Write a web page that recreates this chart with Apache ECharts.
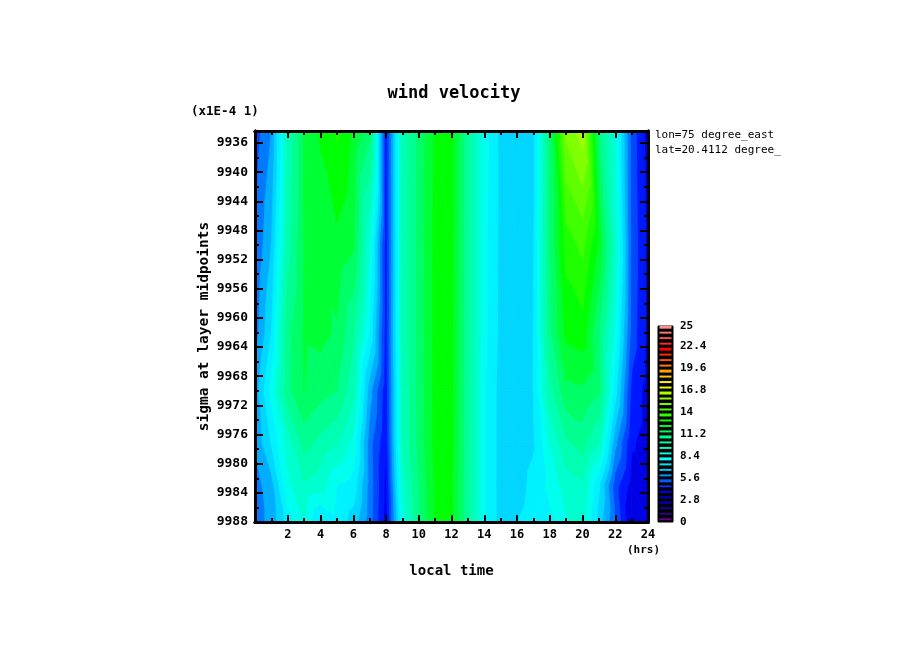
<!DOCTYPE html>
<html>
<head>
<meta charset="utf-8">
<script src="https://cdn.jsdelivr.net/npm/echarts@6/dist/echarts.min.js"></script>
<style>
  html, body { margin: 0; padding: 0; background: #fff; }
  #chart { width: 904px; height: 654px; }
</style>
</head>
<body>
<div id="chart"></div>
<script>
// local time of each column (hrs)
const hours = [0, 1, 2, 3, 4, 5, 6, 7, 8, 9, 10, 11, 12, 13, 14, 15, 16, 17, 18, 19, 20, 21, 22, 23, 24];
// sigma (x1E-4) of each row
const sigmas = [9934.35, 9950, 9962, 9970, 9977, 9983, 9988];
// wind velocity along each row, one value per hour
const row9934 = [5.2, 6.3, 9.9, 11.9, 12.7, 13.4, 12.5, 11.4, 4.4, 9.9, 11.4, 12.7, 12.8, 10.6, 8.7, 7.5, 7.3, 7.4, 11.2, 15.6, 16.5, 11.2, 9, 5.3, 3.9];
const row9950 = [5.6, 7, 10.2, 11.9, 12.1, 12.4, 12, 9.1, 4.4, 9.9, 11.4, 12.8, 12.8, 10.6, 8.6, 7.5, 7.3, 7.6, 11.2, 13.6, 14.2, 12.5, 9.5, 5.4, 4];
const row9962 = [5.9, 7.7, 11, 12, 12.1, 11.8, 10.6, 8.3, 4.5, 9.9, 11.4, 12.8, 12.8, 10.6, 8.6, 7.5, 7.3, 7.7, 11, 12.8, 13, 11.2, 8.8, 5.3, 4];
const row9970 = [6.6, 8.6, 11, 11.9, 11.5, 11.2, 10, 6.6, 4.4, 9.8, 11.4, 12.8, 12.8, 10.6, 8.5, 7.4, 7.3, 7.7, 10.2, 11.7, 11.8, 11.3, 8, 4.7, 3.9];
const row9977 = [6.4, 7.8, 9.4, 10.8, 10.3, 9.9, 8.9, 5.9, 4.3, 9.8, 11.4, 12.8, 12.8, 10.6, 8.5, 7.4, 7.3, 7.6, 9.1, 10.4, 10.8, 9.9, 6.5, 4.3, 3.9];
const row9983 = [6, 6.7, 8.9, 9.7, 9.4, 8.4, 8.1, 6, 4, 9.4, 11.2, 12.7, 12.7, 10.6, 8.5, 7.4, 7.4, 7.9, 8.6, 9.4, 9.7, 7.8, 5.2, 3.9, 3.8];
const row9988 = [6, 6.5, 8, 9.1, 7.5, 8.2, 7.4, 5.9, 3.9, 8.8, 11, 12.7, 12.8, 10.6, 8.5, 7.4, 7.7, 8, 8.2, 9, 9.4, 7.4, 5.6, 3.5, 3.8];
const rows = [row9934, row9950, row9962, row9970, row9977, row9983, row9988];

const hourLabels = [2, 4, 6, 8, 10, 12, 14, 16, 18, 20, 22, 24];
const hourMinor = [1, 3, 5, 7, 9, 11, 13, 15, 17, 19, 21, 23];
const sigmaLabels = [9936, 9940, 9944, 9948, 9952, 9956, 9960, 9964, 9968, 9972, 9976, 9980, 9984, 9988];
const sigmaMinor = [9938, 9942, 9946, 9950, 9954, 9958, 9962, 9966, 9970, 9974, 9978, 9982, 9986];

// colour bar
const barLabels = [0, 2.8, 5.6, 8.4, 11.2, 14, 16.8, 19.6, 22.4, 25];
const levelStep = 0.7;
const levelCount = 36;
const rampValues = [0, 1.4, 2.8, 4.2, 5.6, 7, 8.4, 11.2, 13, 14, 16.8, 18, 19.6, 22.4, 25];
const rampColors = ['#a000a0', '#300090', '#0000a0', '#0000ff', '#0060ff', '#00c8ff', '#00ffff', '#00ff80', '#00ff00', '#30ff00', '#b0ff00', '#ffff00', '#ffa000', '#ff0000', '#ff9090'];

const hexRgb = (hex) => [1, 3, 5].map(i => parseInt(hex.slice(i, i + 2), 16));

const rampColor = (v) => {
    let i = 0;
    while (i < rampValues.length - 2 && v > rampValues[i + 1]) i++;
    let t = Math.min(1, (v - rampValues[i]) / (rampValues[i + 1] - rampValues[i]));
    let a = hexRgb(rampColors[i]), b = hexRgb(rampColors[i + 1]);
    return 'rgb(' + a.map((c, j) => Math.round(c + (b[j] - c) * t)).join(',') + ')';
};

// the part of a polygon where the value is >= lo
const clipAbove = (poly, lo) => {
    let out = [];
    for (let i = 0; i < poly.length; i++) {
        let p = poly[i], q = poly[(i + 1) % poly.length];
        if (p[2] >= lo) out.push(p);
        if ((p[2] >= lo) !== (q[2] >= lo)) {
            let t = (lo - p[2]) / (q[2] - p[2]);
            out.push([p[0] + (q[0] - p[0]) * t, p[1] + (q[1] - p[1]) * t, lo]);
        }
    }
    return out;
};

// the data grid split up in triangles, each one cut at the contour levels
let bands = [];
const addTriangle = (tri) => {
    let vals = tri.map(p => p[2]);
    let kMin = Math.floor(Math.min(...vals) / levelStep);
    let kMax = Math.floor(Math.max(...vals) / levelStep);
    for (let k = kMin; k <= kMax; k++) {
        let poly = k === kMin ? tri : clipAbove(tri, k * levelStep);
        if (poly.length >= 3) bands.push({ level: k, poly: poly });
    }
};
for (let r = 0; r < sigmas.length - 1; r++) {
    for (let c = 0; c < hours.length - 1; c++) {
        let a = [hours[c], sigmas[r], rows[r][c]];
        let b = [hours[c + 1], sigmas[r], rows[r][c + 1]];
        let d = [hours[c], sigmas[r + 1], rows[r + 1][c]];
        let e = [hours[c + 1], sigmas[r + 1], rows[r + 1][c + 1]];
        addTriangle([a, b, e]);
        addTriangle([a, e, d]);
    }
}
// low levels first so the higher ones paint over the seams
bands.sort((p, q) => p.level - q.level);

const renderShade = (params, api) => {
    let band = bands[params.dataIndex];
    let color = rampColor((band.level + 0.5) * levelStep);
    return {
        type: 'polygon',
        shape: { points: band.poly.map(p => api.coord([p[0], p[1]])) },
        style: { fill: color, stroke: color, lineWidth: 0.8 },
        silent: true
    };
};

const renderBarLine = (params, api) => {
    let k = params.dataIndex;
    let mid = (k + 0.5) * levelStep;
    let p0 = api.coord([0.1, mid]);
    let p1 = api.coord([0.9, mid]);
    let h = k % 4 === 3 ? 3 : 2;
    return {
        type: 'rect',
        shape: { x: p0[0], y: p0[1] - h / 2, width: p1[0] - p0[0], height: h },
        style: { fill: rampColor((k + 1) * levelStep) },
        silent: true
    };
};

const mono = 'DejaVu Sans Mono';
const axisPen = { show: true, onZero: false, lineStyle: { color: '#000', width: 3 } };
const plainNumber = (v) => String(v);

const hourAxis = (position, major, showLabel) => ({
    type: 'value', gridIndex: 0, position: position, min: 0, max: 24, z: 6,
    splitLine: { show: false },
    axisLine: axisPen,
    axisTick: {
        show: true, inside: true, length: major ? 7 : 4,
        customValues: major ? hourLabels : hourMinor,
        lineStyle: { color: '#000', width: 2 }
    },
    axisLabel: showLabel
        ? { show: true, margin: 7, customValues: hourLabels, formatter: plainNumber, color: '#000', fontFamily: mono, fontWeight: 'bold', fontSize: 12 }
        : { show: false }
});

const sigmaAxis = (position, major, showLabel) => ({
    type: 'value', gridIndex: 0, position: position, inverse: true, min: sigmas[0], max: 9988, z: 6,
    splitLine: { show: false },
    axisLine: axisPen,
    axisTick: {
        show: true, inside: true, length: major ? 8 : 4,
        customValues: major ? sigmaLabels : sigmaMinor,
        lineStyle: { color: '#000', width: 2 }
    },
    axisLabel: showLabel
        ? { show: true, margin: 7, customValues: sigmaLabels, formatter: plainNumber, color: '#000', fontFamily: mono, fontWeight: 'bold', fontSize: 13 }
        : { show: false }
});

const noteText = (left, top, text, size, bold) => ({
    type: 'text', left: left, top: top, silent: true,
    style: { text: text, fill: '#000', font: (bold ? 'bold ' : '') + size + 'px "' + mono + '"' }
});

let chart = echarts.init(document.getElementById('chart'), null, { renderer: 'canvas' });
chart.setOption({
    animation: false,
    backgroundColor: '#fff',
    title: {
        text: 'wind velocity', left: 449, top: 80, textAlign: 'center',
        textStyle: { color: '#000', fontFamily: mono, fontWeight: 'bold', fontSize: 17 }
    },
    grid: [
        { left: 255, top: 131, width: 393, height: 391 },
        { left: 658, top: 326, width: 15, height: 196, show: true, backgroundColor: '#000', borderColor: '#000', borderWidth: 1 }
    ],
    xAxis: [
        Object.assign(hourAxis('bottom', true, true), {
            name: 'local time', nameLocation: 'middle', nameGap: 42,
            nameTextStyle: { color: '#000', fontFamily: mono, fontWeight: 'bold', fontSize: 14 }
        }),
        hourAxis('bottom', false, false),
        hourAxis('top', true, false),
        hourAxis('top', false, false),
        { type: 'value', gridIndex: 1, min: 0, max: 1, show: false }
    ],
    yAxis: [
        Object.assign(sigmaAxis('left', true, true), {
            name: 'sigma at layer midpoints', nameLocation: 'middle', nameGap: 43, nameRotate: 90,
            nameTextStyle: { color: '#000', fontFamily: mono, fontWeight: 'bold', fontSize: 14.5 }
        }),
        sigmaAxis('left', false, false),
        sigmaAxis('right', true, false),
        sigmaAxis('right', false, false),
        {
            type: 'value', gridIndex: 1, position: 'right', min: 0, max: 25,
            splitLine: { show: false }, axisLine: { show: false }, axisTick: { show: false },
            axisLabel: { show: true, margin: 7, customValues: barLabels, color: '#000', fontFamily: mono, fontWeight: 'bold', fontSize: 11 }
        }
    ],
    series: [
        {
            type: 'custom', xAxisIndex: 0, yAxisIndex: 0, z: 1, progressive: 0,
            renderItem: renderShade,
            encode: { x: 0, y: 1 },
            data: bands.map(b => [b.poly[0][0], b.poly[0][1]])
        },
        {
            type: 'custom', xAxisIndex: 4, yAxisIndex: 4, z: 2,
            renderItem: renderBarLine,
            encode: { x: 0, y: 1 },
            data: Array.from({ length: levelCount }, (_, k) => [0.5, (k + 0.5) * levelStep])
        }
    ],
    graphic: [
        noteText(191, 105, '(x1E-4 1)', 12.5, true),
        noteText(655, 130, 'lon=75 degree_east', 11, false),
        noteText(655, 145, 'lat=20.4112 degree_', 11, false),
        noteText(627, 545, '(hrs)', 11, true)
    ]
});
</script>
</body>
</html>
